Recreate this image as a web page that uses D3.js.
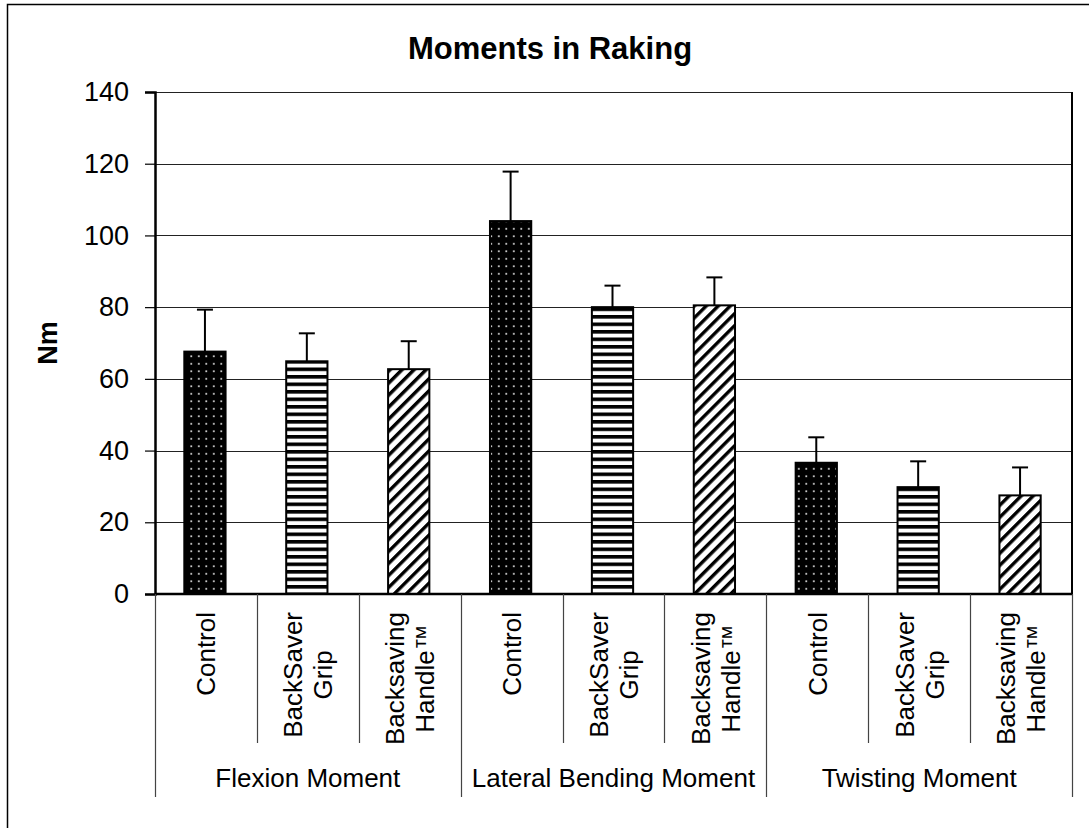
<!DOCTYPE html>
<html>
<head>
<meta charset="utf-8">
<script src="https://cdn.jsdelivr.net/npm/d3@7"></script>
<style>
  body { margin: 0; background: #fff; }
  text { font-family: "Liberation Sans", Arial, sans-serif; fill: #000; }
</style>
</head>
<body>
<div id="graph"></div>
<script>
// Data
const groups = ['Flexion Moment', 'Lateral Bending Moment', 'Twisting Moment'];
const conditions = ['Control', 'BackSaver Grip', 'Backsaving Handle™'];
const conditionLines = [['Control'], ['BackSaver', 'Grip'], ['Backsaving', 'Handle™']];
const controlValues = [67.6, 104.0, 36.6];
const gripValues = [64.9, 80.0, 29.8];
const handleValues = [62.7, 80.5, 27.5];
const controlErrors = [11.7, 13.8, 7.1];
const gripErrors = [7.8, 6.0, 7.2];
const handleErrors = [7.8, 7.8, 7.8];
const yTicks = [0, 20, 40, 60, 80, 100, 120, 140];

const width = 1089;
const height = 828;
const margin = { top: 92, right: 17, bottom: 234, left: 155 };
const plotWidth = width - margin.left - margin.right;
const plotHeight = height - margin.top - margin.bottom;

const seriesValues = [controlValues, gripValues, handleValues];
const seriesErrors = [controlErrors, gripErrors, handleErrors];
const patterns = ['dots', 'hstripes', 'diag'];

// one row for each bar, in the order they appear
const bars = [];
groups.forEach((g, gi) => {
  conditions.forEach((c, ci) => {
    bars.push({ key: g + '|' + c, group: g, cond: ci, value: seriesValues[ci][gi], err: seriesErrors[ci][gi] });
  });
});

const svg = d3.select('#graph').append('svg')
  .attr('width', width)
  .attr('height', height);

// Fill patterns
const defs = svg.append('defs');

const dots = defs.append('pattern')
  .attr('id', 'dots')
  .attr('patternUnits', 'userSpaceOnUse')
  .attr('width', 7.5).attr('height', 7.5);
dots.append('rect').attr('width', 7.5).attr('height', 7.5).attr('fill', '#000');
dots.append('rect').attr('x', 3).attr('y', 3).attr('width', 1.6).attr('height', 1.6).attr('fill', '#fff');

const hstripes = defs.append('pattern')
  .attr('id', 'hstripes')
  .attr('patternUnits', 'userSpaceOnUse')
  .attr('width', 8).attr('height', 7.5);
hstripes.append('rect').attr('width', 8).attr('height', 7.5).attr('fill', '#fff');
hstripes.append('rect').attr('y', 0).attr('width', 8).attr('height', 3.6).attr('fill', '#000');

const diag = defs.append('pattern')
  .attr('id', 'diag')
  .attr('patternUnits', 'userSpaceOnUse')
  .attr('width', 8.5).attr('height', 8.5)
  .attr('patternTransform', 'rotate(45)');
diag.append('rect').attr('width', 8.5).attr('height', 8.5).attr('fill', '#fff');
diag.append('rect').attr('x', 0).attr('width', 3.4).attr('height', 8.5).attr('fill', '#000');

// Outer chart border
svg.append('rect')
  .attr('x', 7.5).attr('y', 4.5)
  .attr('width', 1100).attr('height', 840)
  .attr('fill', 'none')
  .attr('stroke', '#000')
  .attr('stroke-width', 1.5);

const xScale = d3.scaleBand()
  .domain(bars.map(d => d.key))
  .range([margin.left, margin.left + plotWidth])
  .padding(0);

const yScale = d3.scaleLinear()
  .domain([0, 140])
  .range([margin.top + plotHeight, margin.top]);

const barWidth = xScale.bandwidth() * 0.405;

// Horizontal grid lines
svg.append('g')
  .selectAll('line')
  .data(yTicks.filter(t => t > 0))
  .enter()
  .append('line')
  .attr('x1', margin.left)
  .attr('x2', margin.left + plotWidth)
  .attr('y1', d => Math.round(yScale(d)) + 0.5)
  .attr('y2', d => Math.round(yScale(d)) + 0.5)
  .attr('stroke', '#222')
  .attr('stroke-width', 1);

// Right edge of the plot area
svg.append('line')
  .attr('x1', margin.left + plotWidth).attr('x2', margin.left + plotWidth)
  .attr('y1', yScale(140)).attr('y2', yScale(0))
  .attr('stroke', '#000').attr('stroke-width', 2);

// Y axis
const yAxis = d3.axisLeft(yScale).tickValues(yTicks).tickSize(10).tickPadding(16);
const yAxisG = svg.append('g')
  .attr('transform', `translate(${margin.left}, 0)`)
  .call(yAxis);
yAxisG.select('.domain').attr('stroke', '#000').attr('stroke-width', 2.5);
yAxisG.selectAll('.tick line').attr('stroke', '#000').attr('stroke-width', 1.2);
yAxisG.selectAll('.tick text')
  .style('font-family', '"Liberation Sans", Arial, sans-serif')
  .style('font-size', '27px')
  .attr('fill', '#000');

// Bars
svg.append('g')
  .selectAll('rect')
  .data(bars)
  .enter()
  .append('rect')
  .attr('x', d => xScale(d.key) + (xScale.bandwidth() - barWidth) / 2 - 1)
  .attr('y', d => yScale(d.value))
  .attr('width', barWidth)
  .attr('height', d => yScale(0) - yScale(d.value))
  .attr('fill', d => `url(#${patterns[d.cond]})`)
  .attr('stroke', '#000')
  .attr('stroke-width', 2);

// Error bars, upper only
const errG = svg.append('g').attr('stroke', '#000').attr('stroke-width', 2);
bars.forEach(d => {
  const cx = xScale(d.key) + xScale.bandwidth() / 2 - 1;
  errG.append('line')
    .attr('x1', cx).attr('x2', cx)
    .attr('y1', yScale(d.value)).attr('y2', yScale(d.value + d.err));
  errG.append('line')
    .attr('x1', cx - 8).attr('x2', cx + 8)
    .attr('y1', yScale(d.value + d.err)).attr('y2', yScale(d.value + d.err));
});

// X axis base line
svg.append('line')
  .attr('x1', margin.left).attr('x2', margin.left + plotWidth)
  .attr('y1', yScale(0)).attr('y2', yScale(0))
  .attr('stroke', '#000').attr('stroke-width', 2.5);

// Category dividers: short ones between conditions, long ones between groups
const boundaries = bars.map(d => xScale(d.key)).concat([margin.left + plotWidth]);
svg.append('g')
  .selectAll('line')
  .data(boundaries)
  .enter()
  .append('line')
  .attr('x1', d => Math.round(d) + 0.5)
  .attr('x2', d => Math.round(d) + 0.5)
  .attr('y1', yScale(0))
  .attr('y2', (d, i) => (i % conditions.length === 0 ? 797 : 743))
  .attr('stroke', '#444')
  .attr('stroke-width', 1.2);

// Condition labels, rotated, top aligned and centred line by line
const lineHeight = 30;
const labelTop = 612;
bars.forEach(d => {
  const lines = conditionLines[d.cond];
  const cx = xScale(d.key) + xScale.bandwidth() / 2;
  const label = svg.append('g');
  const texts = lines.map((t, i) => label.append('text')
    .attr('text-anchor', 'middle')
    .attr('y', (i - (lines.length - 1) / 2) * lineHeight)
    .attr('dy', '0.36em')
    .style('font-size', '26px')
    .text(t));
  const maxLen = d3.max(texts, t => t.node().getComputedTextLength());
  label.attr('transform', `translate(${cx}, ${labelTop + maxLen / 2}) rotate(-90)`);
});

// Group labels
svg.append('g')
  .selectAll('text')
  .data(groups)
  .enter()
  .append('text')
  .attr('x', (g, gi) => (xScale(bars[gi * 3].key) + xScale(bars[gi * 3 + 2].key) + xScale.bandwidth()) / 2)
  .attr('y', 787)
  .attr('text-anchor', 'middle')
  .style('font-size', '26px')
  .text(g => g);

// Title
svg.append('text')
  .attr('x', 550)
  .attr('y', 59)
  .attr('text-anchor', 'middle')
  .style('font-size', '31px')
  .style('font-weight', 'bold')
  .text('Moments in Raking');

// Y axis title
svg.append('text')
  .attr('transform', `translate(57, ${(yScale(0) + yScale(140)) / 2}) rotate(-90)`)
  .attr('text-anchor', 'middle')
  .style('font-size', '27px')
  .style('font-weight', 'bold')
  .text('Nm');
</script>
</body>
</html>
